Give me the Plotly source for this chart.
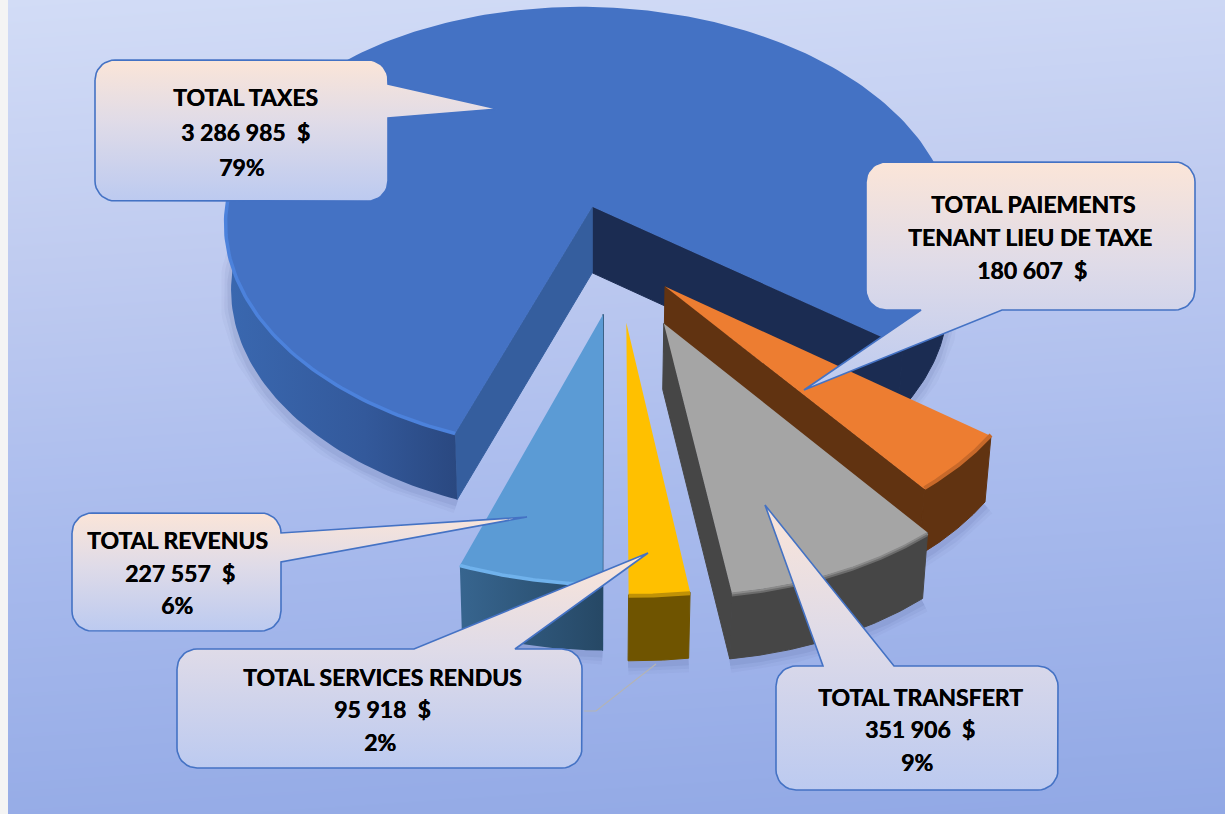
import numpy as np
import plotly.graph_objects as go

# ---------- data ----------
categories = ["TOTAL TAXES", "TOTAL PAIEMENTS", "TOTAL TRANSFERT", "TOTAL SERVICES RENDUS", "TOTAL REVENUS"]
values = [3286985, 180607, 351906, 95918, 227557]
value_labels = ["3 286 985  $", "180 607  $", "351 906  $", "95 918  $", "227 557  $"]
percent_labels = ["79%", "", "9%", "2%", "6%"]
explode = [0.24, 0.17, 0.295, 0.27, 0.24]
top_colors = ["#4472c4", "#ed7d31", "#a5a5a5", "#ffc000", "#5b9bd5"]
wall_colors = ["#2f5597", "#613311", "#464646", "#6f5400", "#2f5a80"]
rim_colors = ["#4c82dc", "#c8692a", "#7c7c7c", "#c09206", "#70b2ec"]

# ---------- projection of the tilted pie ----------
START = 201.4
CW, CH = 1225, 814
X0, Y0, RX, RY, K, L, M = 592, 207, 362, 220, 0.1, 0.01, 8.8
CENTER = (0.066, 0.23)
DEPTH = 66


def proj(X, Y, z=0.0):
    X, Y = np.asarray(X, float), np.asarray(Y, float)
    d = 1 - K * Y + L * X
    sx = X0 + (RX * X + M * Y) / d
    sy = Y0 + RY * Y / d
    if z:
        sx = X0 + (sx - X0) * 0.985
        sy = sy + z
    return sx, sy


def direction(phi):
    r = np.radians(phi)
    return np.sin(r), -np.cos(r)


def apex(i):
    a0, a1 = bounds[i]
    dx, dy = direction((a0 + a1) / 2)
    return CENTER[0] + explode[i] * dx, CENTER[1] + explode[i] * dy


total = sum(values)
bounds, _a = [], START
for v in values:
    bounds.append((_a, _a + 360 * v / total))
    _a += 360 * v / total

fig = go.Figure()


def poly(xs, ys, color=None, grad=None, line=None, lw=0):
    kw = dict(x=list(xs), y=list(ys), mode="lines", fill="toself", hoverinfo="skip", showlegend=False,
              line=dict(color=line or "rgba(0,0,0,0)", width=lw))
    if grad:
        kw["fillgradient"] = grad
    else:
        kw["fillcolor"] = color
    fig.add_trace(go.Scatter(**kw))


def stroke(xs, ys, color, w):
    fig.add_trace(go.Scatter(x=list(xs), y=list(ys), mode="lines", hoverinfo="skip", showlegend=False,
                             line=dict(color=color, width=w, shape="linear")))


def arc(i, a0, a1, z=0.0, n=70):
    dx, dy = direction(np.linspace(a0, a1, n))
    ax, ay = apex(i)
    return proj(ax + dx, ay + dy, z)


def edge_wall(i, phi, color=None, grad=None):
    ax, ay = apex(i)
    dx, dy = direction(phi)
    x1, y1 = proj(ax, ay)
    x2, y2 = proj(ax + dx, ay + dy)
    x3, y3 = proj(ax + dx, ay + dy, DEPTH)
    x4, y4 = proj(ax, ay, DEPTH)
    poly([x1, x2, x3, x4, x1], [y1, y2, y3, y4, y1], color=color, grad=grad, line=color, lw=1 if color else 0)


def outer_wall(i, a0, a1, color=None, grad=None):
    xt, yt = arc(i, a0, a1)
    xb, yb = arc(i, a0, a1, DEPTH)
    poly(np.r_[xt, xb[::-1], xt[0]], np.r_[yt, yb[::-1], yt[0]], color=color, grad=grad,
         line=color, lw=1 if color else 0)


def top_face(i):
    a0, a1 = bounds[i]
    xt, yt = arc(i, a0, a1, n=240)
    ax, ay = proj(*apex(i))
    poly(np.r_[ax, xt, ax], np.r_[ay, yt, ay], color=top_colors[i])


def shadow(i, a0, a1):
    xb, yb = arc(i, a0, a1, DEPTH + 3)
    for w, alpha in ((22, 0.035), (15, 0.05), (8, 0.07)):
        stroke(xb, yb, f"rgba(45,55,110,{alpha})", w)


# ---------- background ----------
gx = np.linspace(0, CW, 14)
gy = np.linspace(0, CH, 22)
gz = [[yy / CH + 0.10 * xx / CW for xx in gx] for yy in gy]
fig.add_trace(go.Heatmap(x=gx, y=gy, z=gz, zsmooth="best", showscale=False, hoverinfo="skip", zmin=0, zmax=1.1,
                         colorscale=[[0, "#d2dcf6"], [0.3, "#bfcbf0"], [0.6, "#a9bbed"], [1, "#91a8e5"]]))
poly([0, 8, 8, 0, 0], [0, 0, CH, CH, 0], color="#f4f4f4")

# ---------- shadows ----------
b0, b1 = bounds[0]
shadow(0, b0, 285)
shadow(0, 360 + 85, b1)
for i in (1, 2, 3, 4):
    shadow(i, *bounds[i])

# grey leader line behind the services callout
stroke([584, 596, 656], [711, 711, 664], "#b4b4b4", 1.2)

# ---------- taxes ----------
edge_wall(0, b1, color="#1b2c52")
edge_wall(0, b0, color="#355e9e")
outer_wall(0, b0, 285, grad=dict(type="horizontal", colorscale=[[0, "#3a68b0"], [0.6, "#33599b"], [1, "#2a4880"]]))
outer_wall(0, 360 + 80, b1, color="#1b2c52")
top_face(0)
xr, yr = arc(0, b0, 272)
stroke(xr, yr, rim_colors[0], 3.5)

# ---------- orange ----------
a0, a1 = bounds[1]
edge_wall(1, a1, color=wall_colors[1])
outer_wall(1, a0, a1, color=wall_colors[1])
top_face(1)
xr, yr = arc(1, a0, a1)
stroke(xr, yr - 1, rim_colors[1], 4)

# ---------- grey ----------
a0, a1 = bounds[2]
edge_wall(2, a1, color=wall_colors[2])
outer_wall(2, a0, a1, color=wall_colors[2])
top_face(2)
xr, yr = arc(2, a0, a1)
stroke(xr, yr + 1, "#8a8a8a", 3)
stroke(xr, yr + 2.5, "#6c6c6c", 2)

# ---------- yellow ----------
a0, a1 = bounds[3]
outer_wall(3, a0, a1, color=wall_colors[3])
top_face(3)
xr, yr = arc(3, a0, a1)
stroke(xr, yr + 1, rim_colors[3], 4)

# ---------- light blue ----------
a0, a1 = bounds[4]
edge_wall(4, a0, color="#244a6b")
outer_wall(4, a0, a1, grad=dict(type="horizontal", colorscale=[[0, "#37658f"], [1, "#264865"]]))
top_face(4)
xr, yr = arc(4, a0, a1)
stroke(xr, yr, rim_colors[4], 3.5)


# ---------- callouts ----------
def callout(l, t, r, b, side, p, q, tip, rad=20):
    pts = []

    def corner(cx, cy, s, e):
        for a in np.radians(np.linspace(s, e, 10)):
            pts.append((cx + rad * np.cos(a), cy + rad * np.sin(a)))

    corner(l + rad, t + rad, 180, 270)
    if side == "top":
        pts += [(p, t), tip, (q, t)]
    corner(r - rad, t + rad, 270, 360)
    if side == "right":
        pts += [(r, p), tip, (r, q)]
    corner(r - rad, b - rad, 0, 90)
    if side == "bottom":
        pts += [(q, b), tip, (p, b)]
    corner(l + rad, b - rad, 90, 180)
    pts.append(pts[0])
    xs, ys = zip(*pts)
    poly(xs, ys, line="#4472c4", lw=1.6,
         grad=dict(type="vertical", colorscale=[[0, "#bccaf0"], [0.55, "#dfdbe8"], [1, "#fbe5d8"]]))


callout(95, 60, 388, 201, "right", 84, 118, (498, 109))
callout(866, 162, 1195, 310, "bottom", 921, 1002, (804, 390))
callout(72, 513, 281, 631, "right", 533, 562, (527, 517))
callout(177, 649, 582, 768, "top", 414, 515, (648, 553))
callout(776, 666, 1058, 790, "top", 823, 894, (765, 505))

# ---------- text ----------
text_rows = [
    (categories[0], 245, 97), (value_labels[0], 245, 132), (percent_labels[0], 242, 167),
    (categories[1], 1033, 204), ("TENANT LIEU DE TAXE", 1030, 237), (value_labels[1], 1032, 270),
    (categories[4], 177, 540), (value_labels[4], 180, 573), (percent_labels[4], 177, 605),
    (categories[3], 382, 677), (value_labels[3], 382, 709), (percent_labels[3], 380, 742),
    (categories[2], 920, 697), (value_labels[2], 920, 729), (percent_labels[2], 917, 762),
]
for txt, x, y in text_rows:
    fig.add_annotation(x=x, y=y, text=f"<b>{txt.replace('  ', '&nbsp;&nbsp;')}</b>", showarrow=False,
                       xanchor="center", yanchor="middle",
                       font=dict(family="Lato", size=23, color="#000000", shadow="0.4px 0 0 #000000"))

fig.update_layout(width=CW, height=CH, margin=dict(l=0, r=0, t=0, b=0), showlegend=False,
                  paper_bgcolor="#ffffff", plot_bgcolor="#ffffff",
                  xaxis=dict(range=[0, CW], visible=False, fixedrange=True),
                  yaxis=dict(range=[CH, 0], visible=False, fixedrange=True))
fig.write_html("out.html", config={"displayModeBar": False},
               post_script="document.body.style.margin='0';document.body.style.overflow='hidden';")
